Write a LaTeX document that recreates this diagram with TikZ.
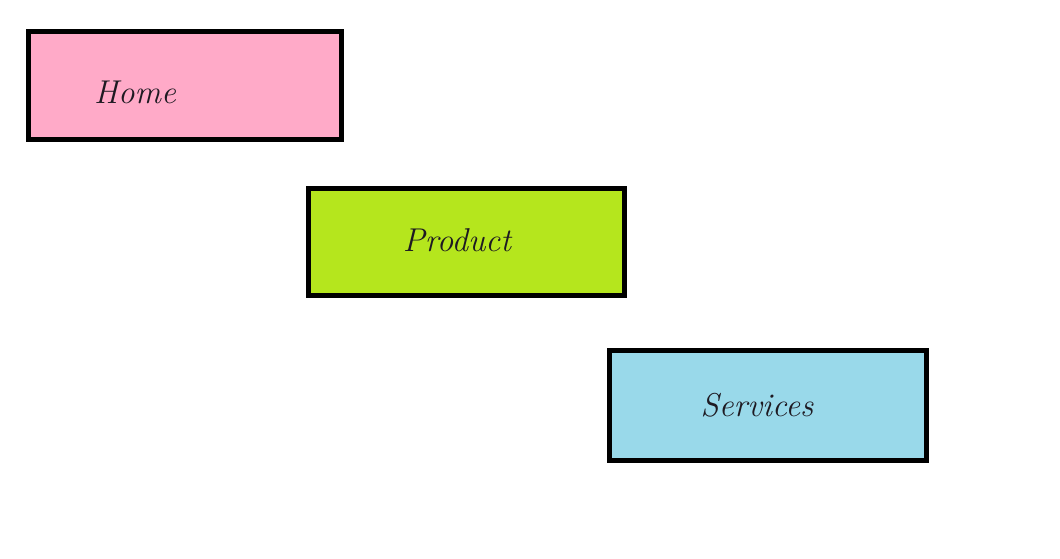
\documentclass[tikz,border=0pt]{standalone}
\usepackage{fontspec}
\setmainfont{Latin Modern Roman}
\definecolor{homepink}{HTML}{FFAAC8}
\definecolor{prodlime}{HTML}{B5E61D}
\definecolor{servblue}{HTML}{99D9EA}
\definecolor{inkdark}{HTML}{1E1A22}
\begin{document}
\begin{tikzpicture}[x=1pt,y=-1pt,
  menubox/.style={draw=black,line width=5pt,inner sep=0pt,outer sep=0pt,anchor=north west},
  menutext/.style={text=inkdark,font=\fontsize{33}{38}\selectfont\itshape,inner sep=0pt}]
\useasboundingbox (0,0) rectangle (1060,559);
\node[menubox,fill=homepink,minimum width=313pt,minimum height=108pt] (home) at (28.5,31.5) {};
\node[menubox,fill=prodlime,minimum width=316pt,minimum height=107pt] (product) at (308.5,188.5) {};
\node[menubox,fill=servblue,minimum width=317pt,minimum height=110pt] (services) at (609.5,350.5) {};
\node[menutext] (hometext) at (135,92) {Home};
\node[menutext] (producttext) at (457,240) {Product};
\node[menutext] (servicestext) at (757,405) {Services};
\end{tikzpicture}
\end{document}
